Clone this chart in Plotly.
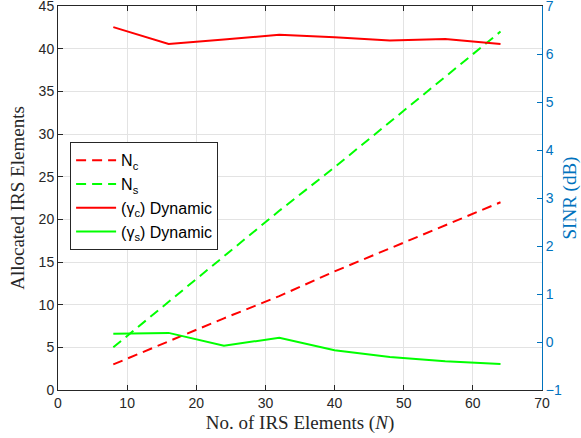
import plotly.graph_objects as go

N = [8, 16, 24, 32, 40, 48, 56, 64]
Nc = [3.0, 5.7, 8.4, 11.0, 13.9, 16.6, 19.3, 22.0]
Ns = [5.0, 10.3, 15.6, 21.0, 26.1, 31.4, 36.7, 42.0]
sinr_c = [6.56, 6.21, 6.30, 6.40, 6.35, 6.28, 6.31, 6.21]
sinr_s = [0.17, 0.19, -0.08, 0.09, -0.17, -0.31, -0.40, -0.46]

RED = "#FF0000"
GREEN = "#00FF00"
BLUE = "#0072BD"

fig = go.Figure()
fig.add_trace(go.Scatter(x=N, y=Nc, mode="lines", name="N<sub>c</sub>",
                         line=dict(color=RED, width=2, dash="10px,6px")))
fig.add_trace(go.Scatter(x=N, y=Ns, mode="lines", name="N<sub>s</sub>",
                         line=dict(color=GREEN, width=2, dash="10px,6px")))
fig.add_trace(go.Scatter(x=N, y=sinr_c, mode="lines", name="(γ<sub>c</sub>) Dynamic",
                         line=dict(color=RED, width=2), yaxis="y2"))
fig.add_trace(go.Scatter(x=N, y=sinr_s, mode="lines", name="(γ<sub>s</sub>) Dynamic",
                         line=dict(color=GREEN, width=2), yaxis="y2"))

tickfont = dict(family="Liberation Sans, Arial", size=14, color="#262626")
serif = dict(family="Liberation Serif, Times New Roman", size=19, color="#262626")

fig.update_layout(
    width=581, height=438,
    margin=dict(l=58, r=39, t=6, b=48, autoexpand=False),
    plot_bgcolor="white", paper_bgcolor="white",
    showlegend=True,
    legend=dict(x=0.025, y=0.645, xanchor="left", yanchor="top",
                bgcolor="white", bordercolor="#262626", borderwidth=1,
                font=dict(family="Liberation Sans, Arial", size=16, color="#000000"),
                tracegroupgap=0, itemwidth=40),
    xaxis=dict(range=[0, 70], dtick=10, tickfont=tickfont, automargin=False,
               showgrid=True, gridcolor="#E3E3E3", gridwidth=1,
               showline=True, linecolor="#262626", linewidth=1, mirror="ticks",
               ticks="inside", ticklen=5, tickcolor="#262626", zeroline=False,
               ticklabeloverflow="allow",
               title=dict(text="No. of IRS Elements (<i>N</i>)", font=serif, standoff=5)),
    yaxis=dict(range=[0, 45], dtick=5, tickfont=tickfont, automargin=False,
               showgrid=True, gridcolor="#E3E3E3", gridwidth=1,
               showline=True, linecolor="#262626", linewidth=1,
               ticks="inside", ticklen=5, tickcolor="#262626", zeroline=False,
               ticklabeloverflow="allow",
               title=dict(text="Allocated IRS Elements", font=serif, standoff=8)),
    yaxis2=dict(range=[-1, 7], dtick=1, overlaying="y", side="right", automargin=False,
                tickfont=dict(family="Liberation Sans, Arial", size=14, color=BLUE),
                showgrid=False, showline=True, linecolor=BLUE, linewidth=1,
                ticks="inside", ticklen=5, tickcolor=BLUE, zeroline=False,
                ticklabeloverflow="allow",
                title=dict(text="SINR (dB)", font=dict(family="Liberation Serif, Times New Roman", size=19, color=BLUE), standoff=8)),
)

fig.write_html("out.html")
